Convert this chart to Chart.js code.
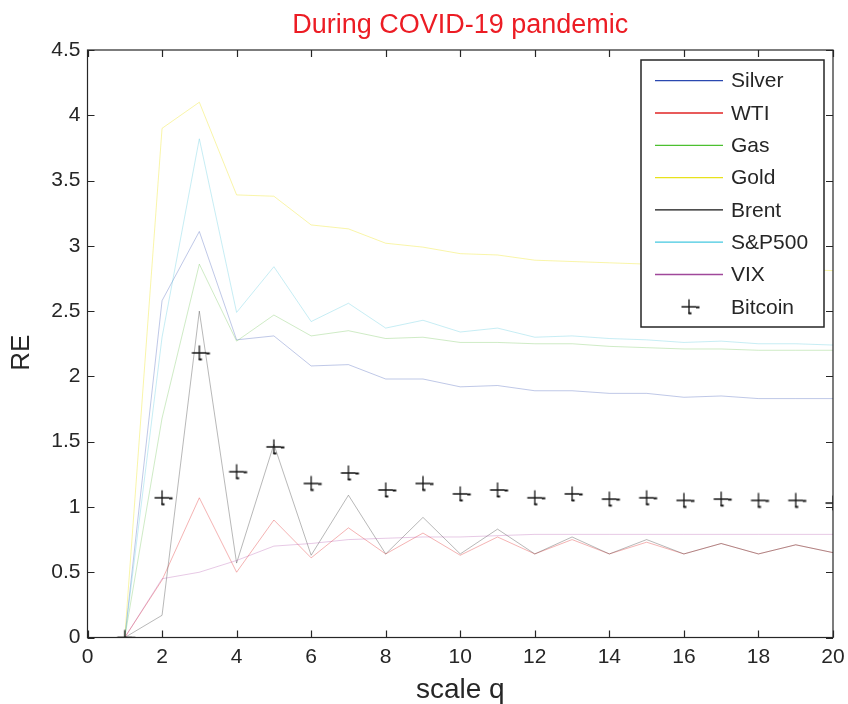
<!DOCTYPE html>
<html>
<head>
<meta charset="utf-8">
<script src="https://cdn.jsdelivr.net/npm/chart.js@4.4.1/dist/chart.umd.min.js"></script>
<style>
  html, body { margin: 0; padding: 0; background: #ffffff; }
  #wrap { width: 848px; height: 704px; position: relative; }
</style>
</head>
<body>
<div id="wrap"><canvas id="c" width="848" height="704"></canvas></div>
<script>
// ---- data ----
const scaleQ = [1,2,3,4,5,6,7,8,9,10,11,12,13,14,15,16,17,18,19,20];
const seriesNames = ['Silver','WTI','Gas','Gold','Brent','S&P500','VIX','Bitcoin'];
const silver = [0,2.58,3.11,2.28,2.31,2.08,2.09,1.98,1.98,1.92,1.93,1.89,1.89,1.87,1.87,1.84,1.85,1.83,1.83,1.83];
const wti    = [0,0.44,1.07,0.50,0.90,0.61,0.84,0.64,0.80,0.63,0.77,0.64,0.75,0.64,0.73,0.64,0.72,0.64,0.71,0.65];
const gas    = [0,1.68,2.86,2.27,2.47,2.31,2.35,2.29,2.30,2.26,2.26,2.25,2.25,2.23,2.22,2.21,2.21,2.20,2.20,2.20];
const gold   = [0,3.90,4.10,3.39,3.38,3.16,3.13,3.02,2.99,2.94,2.93,2.89,2.88,2.87,2.86,2.85,2.84,2.83,2.82,2.81];
const brent  = [0,0.17,2.50,0.57,1.48,0.63,1.09,0.64,0.92,0.64,0.83,0.64,0.77,0.64,0.75,0.64,0.72,0.64,0.71,0.65];
const sp500  = [0,2.30,3.82,2.49,2.84,2.42,2.56,2.37,2.43,2.34,2.37,2.30,2.31,2.29,2.28,2.26,2.27,2.25,2.25,2.24];
const vix    = [0,0.45,0.50,0.59,0.70,0.72,0.75,0.76,0.77,0.77,0.78,0.79,0.79,0.79,0.79,0.79,0.79,0.79,0.79,0.79];
const bitcoin= [0,1.07,2.18,1.27,1.46,1.18,1.26,1.13,1.18,1.10,1.13,1.07,1.10,1.06,1.07,1.05,1.06,1.05,1.05,1.03];
const xTicks = [0,2,4,6,8,10,12,14,16,18,20];
const yTicks = [0,0.5,1,1.5,2,2.5,3,3.5,4,4.5];
const xTickLabels = ['0','2','4','6','8','10','12','14','16','18','20'];
const yTickLabels = ['0','0.5','1','1.5','2','2.5','3','3.5','4','4.5'];
const yTitle = 'RE';

// ---- styles ----
const FONT = "'Liberation Sans', Arial, Helvetica, sans-serif";
const INK = '#262626';
const solidColors = ['#2a48b0','#e02424','#4cc030','#e8e21c','#151515','#44c8e0','#a0489a','#151515'];
const fadedColors = ['rgba(42,72,176,0.30)','rgba(224,36,36,0.35)','rgba(82,184,50,0.28)',
                     'rgba(240,230,40,0.40)','rgba(20,20,20,0.30)','rgba(68,196,220,0.30)',
                     'rgba(170,60,160,0.28)','#151515'];
const seriesValues = [silver, wti, gas, gold, brent, sp500, vix, bitcoin];

// custom marker resembling the reference "+" glyph
function makeMarker() {
  const c = document.createElement('canvas');
  c.width = 26; c.height = 20;
  const g = c.getContext('2d');
  g.strokeStyle = '#151515';
  g.lineWidth = 1.3;
  g.beginPath();
  g.moveTo(5.5, 10); g.lineTo(20, 10);
  g.moveTo(13, 2.5); g.lineTo(13, 17);
  g.stroke();
  g.lineWidth = 2;
  g.beginPath();
  g.moveTo(20, 10.5); g.lineTo(23.5, 10.5);
  g.moveTo(12.5, 16.5); g.lineTo(15.5, 16.5);
  g.stroke();
  return c;
}
const marker = makeMarker();

const datasets = seriesValues.map((vals, i) => {
  const isBtc = seriesNames[i] === 'Bitcoin';
  return {
    label: seriesNames[i],
    data: scaleQ.map((q, k) => ({ x: q, y: vals[k] })),
    borderColor: fadedColors[i],
    backgroundColor: fadedColors[i],
    borderWidth: 1,
    showLine: !isBtc,
    pointStyle: isBtc ? marker : 'circle',
    pointRadius: isBtc ? 7 : 0,
    pointHoverRadius: isBtc ? 7 : 0,
    tension: 0,
    order: seriesNames.length - i
  };
});

const frame = {
  id: 'frame',
  afterDatasetsDraw(chart) {
    const { ctx, chartArea: a, scales } = chart;
    ctx.save();
    ctx.strokeStyle = INK;
    ctx.lineWidth = 1.2;
    ctx.strokeRect(a.left, a.top, a.right - a.left, a.bottom - a.top);
    ctx.beginPath();
    const tl = 7;
    xTicks.forEach(v => {
      const px = Math.round(scales.x.getPixelForValue(v)) + 0.5;
      ctx.moveTo(px, a.bottom); ctx.lineTo(px, a.bottom - tl);
      ctx.moveTo(px, a.top); ctx.lineTo(px, a.top + tl);
    });
    yTicks.forEach(v => {
      const py = Math.round(scales.y.getPixelForValue(v)) + 0.5;
      ctx.moveTo(a.left, py); ctx.lineTo(a.left + tl, py);
      ctx.moveTo(a.right, py); ctx.lineTo(a.right - tl, py);
    });
    ctx.stroke();

    // y axis title
    ctx.save();
    ctx.translate(22, (a.top + a.bottom) / 2 + 9);
    ctx.rotate(-Math.PI / 2);
    ctx.font = '26px ' + FONT;
    ctx.fillStyle = INK;
    ctx.textAlign = 'center';
    ctx.textBaseline = 'middle';
    ctx.fillText(yTitle, 0, 0);
    ctx.restore();

    // legend box
    const bx = a.right - 192, by = a.top + 10, bw = 183, bh = 267;
    ctx.fillStyle = '#ffffff';
    ctx.fillRect(bx, by, bw, bh);
    ctx.lineWidth = 1.5;
    ctx.strokeStyle = INK;
    ctx.strokeRect(bx, by, bw, bh);
    ctx.font = '21px ' + FONT;
    ctx.textBaseline = 'middle';
    ctx.textAlign = 'left';
    chart.data.datasets.forEach((ds, i) => {
      const y = by + 20.7 + i * 32.3;
      if (ds.showLine === false) {
        ctx.drawImage(marker, bx + 48 - 13, y - 10);
      } else {
        ctx.strokeStyle = solidColors[i];
        ctx.lineWidth = 1.3;
        ctx.beginPath();
        ctx.moveTo(bx + 14, y); ctx.lineTo(bx + 82, y);
        ctx.stroke();
      }
      ctx.fillStyle = INK;
      ctx.fillText(ds.label, bx + 90, y + 1);
    });
    ctx.restore();
  }
};

new Chart(document.getElementById('c'), {
  type: 'line',
  data: { datasets },
  options: {
    responsive: false,
    animation: false,
    events: [],
    layout: { padding: { left: 0, right: 15, top: 0, bottom: 0 } },
    plugins: {
      legend: { display: false },
      tooltip: { enabled: false },
      title: {
        display: true,
        fullSize: false,
        text: 'During COVID-19 pandemic',
        color: 'rgb(236,28,36)',
        font: { family: FONT, size: 27, weight: 'normal', lineHeight: 1.2 },
        padding: { top: 9, bottom: 8.6 }
      }
    },
    scales: {
      x: {
        type: 'linear',
        min: 0, max: 20,
        afterBuildTicks(scale) { scale.ticks = xTicks.map(v => ({ value: v })); },
        afterFit(scale) { scale.height = 66.5; scale.paddingRight = 0; scale.paddingLeft = 0; },
        grid: { display: false, drawTicks: false },
        border: { display: false },
        ticks: { color: INK, font: { family: FONT, size: 21 }, padding: 7, maxRotation: 0, autoSkip: false,
                 callback: (v, idx) => xTickLabels[idx] },
        title: { display: true, text: 'scale q', color: INK, font: { family: FONT, size: 28 }, padding: { top: 0, bottom: -3 } }
      },
      y: {
        min: 0, max: 4.5,
        afterBuildTicks(scale) { scale.ticks = yTicks.map(v => ({ value: v })); },
        afterFit(scale) { scale.width = 87.5; },
        grid: { display: false, drawTicks: false },
        border: { display: false },
        ticks: { color: INK, font: { family: FONT, size: 21 }, padding: 7, autoSkip: false,
                 callback: (v, idx) => yTickLabels[idx] }
      }
    }
  },
  plugins: [frame]
});
</script>
</body>
</html>
